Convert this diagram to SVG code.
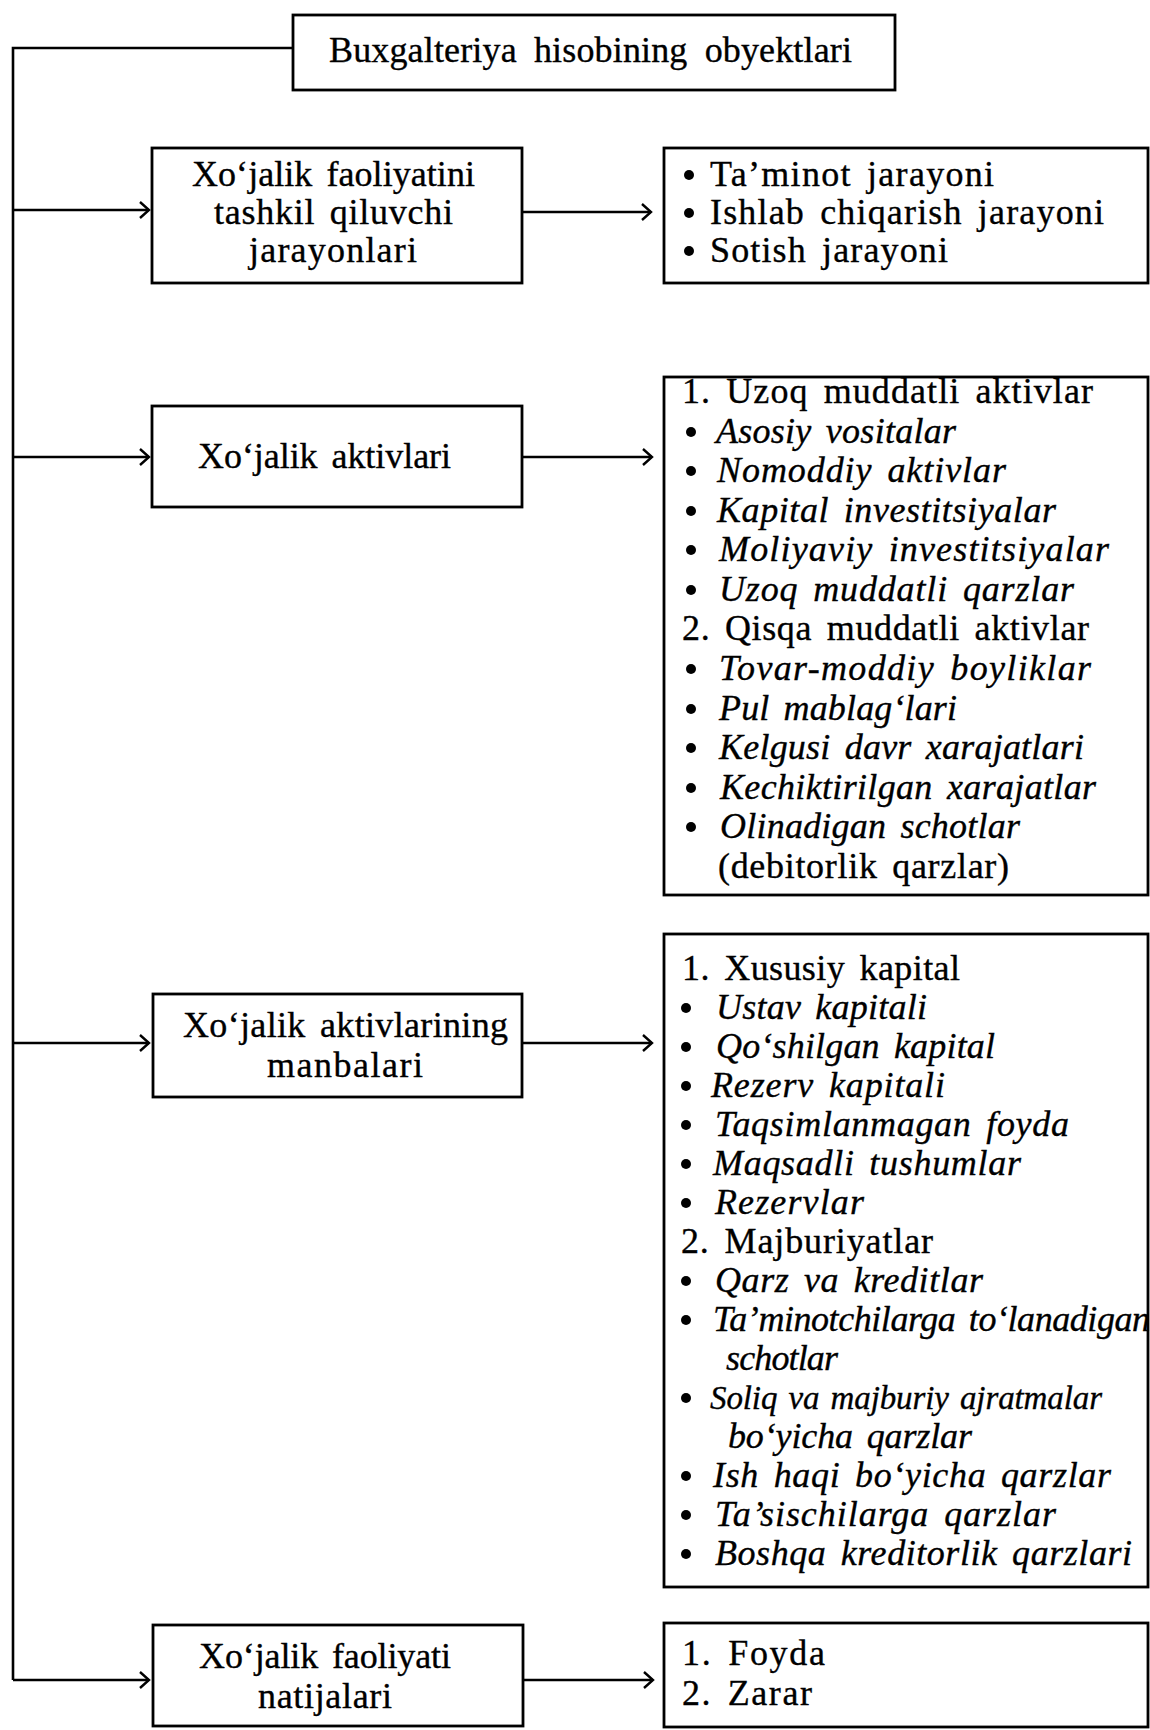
<svg xmlns="http://www.w3.org/2000/svg" width="1150" height="1730" viewBox="0 0 1150 1730">
<style>
.box{fill:#fff;stroke:#000;stroke-width:2.8}
.ln{fill:none;stroke:#000;stroke-width:2.6}
.t{font-family:"Liberation Serif","Times New Roman",serif;font-size:36px;fill:#000;stroke:#000;stroke-width:0.35;word-spacing:5px}
.i{font-style:italic}
.ttl{font-size:36px;word-spacing:8px}
.sm{font-size:33px;word-spacing:3px}
.b{fill:#000}
</style>
<defs>
<marker id="ah" markerUnits="userSpaceOnUse" markerWidth="14" markerHeight="20" refX="11" refY="9" orient="auto">
<path d="M2,1 L11,9 L2,17" fill="none" stroke="#000" stroke-width="2.4"/>
</marker>
</defs>
<rect width="1150" height="1730" fill="#fff"/>

<g id="connectors">
<path class="ln" d="M293,48 H13 V1680"/>
<line class="ln" x1="13" y1="210" x2="149" y2="210" marker-end="url(#ah)"/>
<line class="ln" x1="13" y1="457" x2="149" y2="457" marker-end="url(#ah)"/>
<line class="ln" x1="13" y1="1043" x2="149" y2="1043" marker-end="url(#ah)"/>
<line class="ln" x1="13" y1="1680" x2="149" y2="1680" marker-end="url(#ah)"/>
<line class="ln" x1="522" y1="212" x2="651" y2="212" marker-end="url(#ah)"/>
<line class="ln" x1="522" y1="457" x2="652" y2="457" marker-end="url(#ah)"/>
<line class="ln" x1="522" y1="1043" x2="652" y2="1043" marker-end="url(#ah)"/>
<line class="ln" x1="522" y1="1680" x2="653" y2="1680" marker-end="url(#ah)"/>
</g>

<g id="title">
<rect class="box" x="293" y="15" width="602" height="75"/>
<text class="t ttl" x="329" y="62" textLength="523" lengthAdjust="spacing">Buxgalteriya hisobining obyektlari</text>
</g>

<g id="n-jarayonlar">
<rect class="box" x="152" y="148" width="370" height="135"/>
<text class="t" x="192" y="186" textLength="283" lengthAdjust="spacing">Xo‘jalik faoliyatini</text>
<text class="t" x="214" y="224" textLength="239" lengthAdjust="spacing">tashkil qiluvchi</text>
<text class="t" x="249" y="262" textLength="168" lengthAdjust="spacing">jarayonlari</text>
</g>

<g id="n-jarayonlar-list">
<rect class="box" x="664" y="148" width="484" height="135"/>
<circle class="b" cx="689" cy="175" r="5"/>
<text class="t" x="710" y="186" textLength="284" lengthAdjust="spacing">Ta’minot jarayoni</text>
<circle class="b" cx="689" cy="213" r="5"/>
<text class="t" x="710" y="224" textLength="394" lengthAdjust="spacing">Ishlab chiqarish jarayoni</text>
<circle class="b" cx="689" cy="251" r="5"/>
<text class="t" x="710" y="262" textLength="238" lengthAdjust="spacing">Sotish jarayoni</text>
</g>

<g id="n-aktivlar">
<rect class="box" x="152" y="406" width="370" height="101"/>
<text class="t" x="198" y="468" textLength="253" lengthAdjust="spacing">Xo‘jalik aktivlari</text>
</g>

<g id="n-aktivlar-list">
<rect class="box" x="664" y="377" width="484" height="518"/>
<text class="t" x="682" y="403" textLength="411" lengthAdjust="spacing">1. Uzoq muddatli aktivlar</text>
<circle class="b" cx="691" cy="432" r="5"/>
<text class="t i" x="716" y="443" textLength="240" lengthAdjust="spacing">Asosiy vositalar</text>
<circle class="b" cx="691" cy="471" r="5"/>
<text class="t i" x="717" y="482" textLength="289" lengthAdjust="spacing">Nomoddiy aktivlar</text>
<circle class="b" cx="691" cy="511" r="5"/>
<text class="t i" x="717" y="522" textLength="339" lengthAdjust="spacing">Kapital investitsiyalar</text>
<circle class="b" cx="691" cy="550" r="5"/>
<text class="t i" x="719" y="561" textLength="390" lengthAdjust="spacing">Moliyaviy  investitsiyalar</text>
<circle class="b" cx="691" cy="590" r="5"/>
<text class="t i" x="719" y="601" textLength="355" lengthAdjust="spacing">Uzoq muddatli qarzlar</text>
<text class="t" x="682" y="640" textLength="407" lengthAdjust="spacing">2. Qisqa muddatli aktivlar</text>
<circle class="b" cx="691" cy="669" r="5"/>
<text class="t i" x="719" y="680" textLength="372" lengthAdjust="spacing">Tovar-moddiy boyliklar</text>
<circle class="b" cx="691" cy="709" r="5"/>
<text class="t i" x="719" y="720" textLength="238" lengthAdjust="spacing">Pul mablag‘lari</text>
<circle class="b" cx="691" cy="748" r="5"/>
<text class="t i" x="719" y="759" textLength="365" lengthAdjust="spacing">Kelgusi davr xarajatlari</text>
<circle class="b" cx="691" cy="788" r="5"/>
<text class="t i" x="720" y="799" textLength="376" lengthAdjust="spacing">Kechiktirilgan xarajatlar</text>
<circle class="b" cx="691" cy="827" r="5"/>
<text class="t i" x="720" y="838" textLength="300" lengthAdjust="spacing">Olinadigan schotlar</text>
<text class="t" x="718" y="878" textLength="291" lengthAdjust="spacing">(debitorlik qarzlar)</text>
</g>

<g id="n-manbalar">
<rect class="box" x="153" y="994" width="369" height="103"/>
<text class="t" x="183" y="1037" textLength="325" lengthAdjust="spacing">Xo‘jalik aktivlarining</text>
<text class="t" x="267" y="1077" textLength="156" lengthAdjust="spacing">manbalari</text>
</g>

<g id="n-manbalar-list">
<rect class="box" x="664" y="934" width="484" height="653"/>
<text class="t" x="682" y="980" textLength="278" lengthAdjust="spacing">1. Xususiy kapital</text>
<circle class="b" cx="686" cy="1008" r="5"/>
<text class="t i" x="716" y="1019" textLength="211" lengthAdjust="spacing">Ustav kapitali</text>
<circle class="b" cx="686" cy="1047" r="5"/>
<text class="t i" x="716" y="1058" textLength="279" lengthAdjust="spacing">Qo‘shilgan kapital</text>
<circle class="b" cx="686" cy="1086" r="5"/>
<text class="t i" x="711" y="1097" textLength="234" lengthAdjust="spacing">Rezerv kapitali</text>
<circle class="b" cx="686" cy="1125" r="5"/>
<text class="t i" x="715" y="1136" textLength="354" lengthAdjust="spacing">Taqsimlanmagan foyda</text>
<circle class="b" cx="686" cy="1164" r="5"/>
<text class="t i" x="713" y="1175" textLength="308" lengthAdjust="spacing">Maqsadli tushumlar</text>
<circle class="b" cx="686" cy="1203" r="5"/>
<text class="t i" x="715" y="1214" textLength="149" lengthAdjust="spacing">Rezervlar</text>
<text class="t" x="681" y="1253" textLength="252" lengthAdjust="spacing">2. Majburiyatlar</text>
<circle class="b" cx="686" cy="1281" r="5"/>
<text class="t i" x="715" y="1292" textLength="268" lengthAdjust="spacing">Qarz va kreditlar</text>
<circle class="b" cx="686" cy="1320" r="5"/>
<text class="t i" x="713" y="1331" textLength="437" lengthAdjust="spacing">Ta’minotchilarga to‘lanadigan</text>
<text class="t i" x="726" y="1370" textLength="112" lengthAdjust="spacing">schotlar</text>
<circle class="b" cx="686" cy="1398" r="5"/>
<text class="t i sm" x="710" y="1409" textLength="392" lengthAdjust="spacing">Soliq va majburiy ajratmalar</text>
<text class="t i" x="728" y="1448" textLength="244" lengthAdjust="spacing">bo‘yicha qarzlar</text>
<circle class="b" cx="686" cy="1476" r="5"/>
<text class="t i" x="713" y="1487" textLength="398" lengthAdjust="spacing">Ish haqi bo‘yicha qarzlar</text>
<circle class="b" cx="686" cy="1515" r="5"/>
<text class="t i" x="715" y="1526" textLength="341" lengthAdjust="spacing">Ta’sischilarga qarzlar</text>
<circle class="b" cx="686" cy="1554" r="5"/>
<text class="t i" x="715" y="1565" textLength="417" lengthAdjust="spacing">Boshqa kreditorlik qarzlari</text>
</g>

<g id="n-natijalar">
<rect class="box" x="153" y="1625" width="370" height="101"/>
<text class="t" x="199" y="1668" textLength="252" lengthAdjust="spacing">Xo‘jalik faoliyati</text>
<text class="t" x="258" y="1708" textLength="134" lengthAdjust="spacing">natijalari</text>
</g>

<g id="n-natijalar-list">
<rect class="box" x="664" y="1623" width="484" height="104"/>
<text class="t" x="682" y="1665" textLength="143" lengthAdjust="spacing">1. Foyda</text>
<text class="t" x="682" y="1705" textLength="130" lengthAdjust="spacing">2. Zarar</text>
</g>
</svg>
